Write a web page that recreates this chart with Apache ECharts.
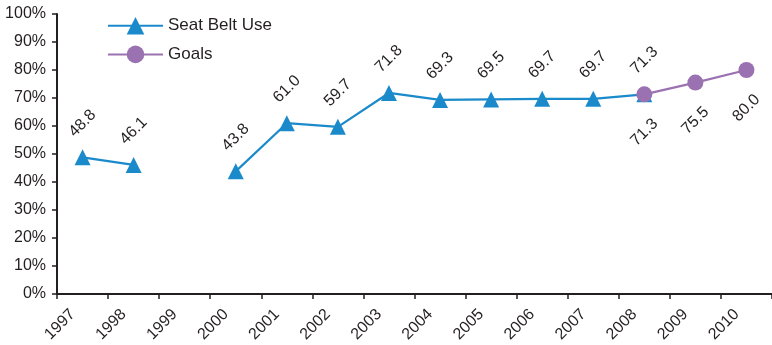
<!DOCTYPE html>
<html>
<head>
<meta charset="utf-8">
<script src="https://cdn.jsdelivr.net/npm/echarts@6/dist/echarts.min.js"></script>
<style>
  html, body { margin: 0; padding: 0; background: #fff; }
  #chart { width: 772px; height: 345px; }
</style>
</head>
<body>
<div id="chart"></div>
<script>
// Observed seat belt use rate by year, and the target goals for 2008-2010
const years = ['1997', '1998', '1999', '2000', '2001', '2002', '2003', '2004', '2005', '2006', '2007', '2008', '2009', '2010'];
const seatBeltUse = [48.8, 46.1, null, 43.8, 61.0, 59.7, 71.8, 69.3, 69.5, 69.7, 69.7, 71.3, null, null];
const goals = [null, null, null, null, null, null, null, null, null, null, null, 71.3, 75.5, 80.0];

const FONT = '"Liberation Sans", Arial, sans-serif';
const BLUE = '#1b8acb';
const PURPLE = '#9b72b1';
const INK = '#231f20';

const chart = echarts.init(document.getElementById('chart'), null, { renderer: 'canvas' });

chart.setOption({
  animation: false,
  textStyle: { fontFamily: FONT },
  grid: { left: 57, right: -4, top: 14, bottom: 51, containLabel: false },
  legend: {
    orient: 'vertical',
    left: 107,
    top: 17,
    padding: 0,
    itemWidth: 55,
    itemHeight: 22,
    itemGap: 11,
    textStyle: { fontFamily: FONT, fontSize: 17, color: INK },
    data: ['Seat Belt Use', 'Goals']
  },
  xAxis: {
    type: 'category',
    data: years,
    boundaryGap: true,
    axisLine: { lineStyle: { color: INK, width: 2 } },
    axisTick: { show: true, interval: 0, length: 5, lineStyle: { color: INK, width: 1.5 } },
    axisLabel: {
      interval: 0, rotate: 45, margin: 8, padding: [0, 14, 0, 0],
      fontSize: 16, color: INK, fontFamily: FONT
    }
  },
  yAxis: {
    type: 'value',
    min: 0,
    max: 100,
    interval: 10,
    splitLine: { show: false },
    axisLine: { show: true, lineStyle: { color: INK, width: 2 } },
    axisTick: { show: true, length: 5, lineStyle: { color: INK, width: 1.5 } },
    axisLabel: { formatter: '{value}%', margin: 11, fontSize: 16, color: INK, fontFamily: FONT }
  },
  series: [
    {
      name: 'Seat Belt Use',
      type: 'line',
      data: seatBeltUse,
      connectNulls: false,
      symbol: 'triangle',
      symbolSize: 16,
      showAllSymbol: true,
      lineStyle: { color: BLUE, width: 2.2 },
      itemStyle: { color: BLUE },
      z: 2,
      label: {
        show: true,
        position: 'top',
        distance: 26,
        rotate: 45,
        align: 'center',
        verticalAlign: 'middle',
        fontSize: 16,
        color: INK,
        fontFamily: FONT,
        formatter: p => p.value.toFixed(1)
      }
    },
    {
      name: 'Goals',
      type: 'line',
      data: goals,
      symbol: 'circle',
      symbolSize: 16,
      showAllSymbol: true,
      lineStyle: { color: PURPLE, width: 2.2 },
      itemStyle: { color: PURPLE },
      z: 3,
      label: {
        show: true,
        position: 'bottom',
        distance: 30,
        rotate: 45,
        align: 'center',
        verticalAlign: 'middle',
        fontSize: 16,
        color: INK,
        fontFamily: FONT,
        formatter: p => p.value.toFixed(1)
      }
    }
  ]
});
</script>
</body>
</html>
